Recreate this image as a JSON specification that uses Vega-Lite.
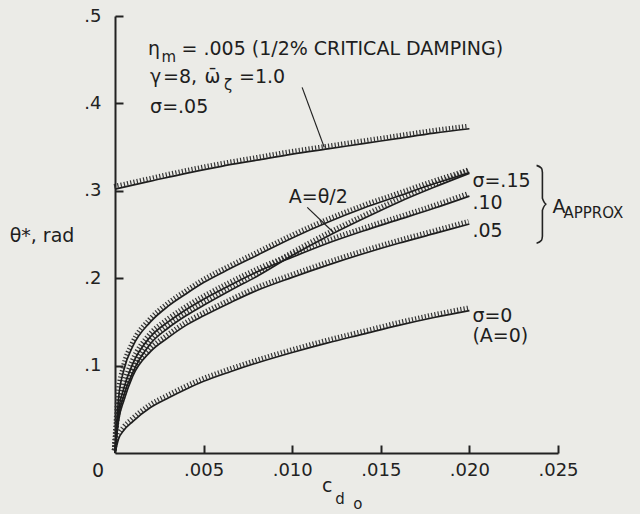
{
  "$schema": "https://vega.github.io/schema/vega-lite/v6.json",
  "width": 443,
  "height": 437,
  "autosize": {"type": "none"},
  "padding": {"left": 115, "top": 16, "right": 82, "bottom": 61},
  "background": "#ebebe7",
  "config": {
    "view": {"stroke": null},
    "font": "DejaVu Sans",
    "axis": {
      "domainColor": "#222", "domainWidth": 2, "tickColor": "#222", "tickWidth": 2,
      "tickSize": -8, "grid": false, "labelFont": "DejaVu Sans", "labelFontSize": 18,
      "labelColor": "#222", "title": null
    }
  },
  "datasets": {
    "curves": [
      {"s":"top","x":0,"y":0.302},{"s":"top","x":0.002,"y":0.311},{"s":"top","x":0.004,"y":0.320},{"s":"top","x":0.006,"y":0.328},{"s":"top","x":0.008,"y":0.335},{"s":"top","x":0.010,"y":0.342},{"s":"top","x":0.012,"y":0.348},{"s":"top","x":0.014,"y":0.354},{"s":"top","x":0.016,"y":0.360},{"s":"top","x":0.018,"y":0.366},{"s":"top","x":0.020,"y":0.371},
      {"s":"s15","x":0,"y":0},{"s":"s15","x":0.0002,"y":0.062},{"s":"s15","x":0.0005,"y":0.095},{"s":"s15","x":0.001,"y":0.122},{"s":"s15","x":0.002,"y":0.150},{"s":"s15","x":0.003,"y":0.168},{"s":"s15","x":0.004,"y":0.182},{"s":"s15","x":0.005,"y":0.195},{"s":"s15","x":0.0065,"y":0.211},{"s":"s15","x":0.008,"y":0.226},{"s":"s15","x":0.010,"y":0.246},{"s":"s15","x":0.012,"y":0.264},{"s":"s15","x":0.014,"y":0.280},{"s":"s15","x":0.016,"y":0.294},{"s":"s15","x":0.018,"y":0.308},{"s":"s15","x":0.020,"y":0.321},
      {"s":"s10","x":0,"y":0},{"s":"s10","x":0.0002,"y":0.047},{"s":"s10","x":0.0005,"y":0.074},{"s":"s10","x":0.001,"y":0.102},{"s":"s10","x":0.002,"y":0.133},{"s":"s10","x":0.003,"y":0.150},{"s":"s10","x":0.004,"y":0.164},{"s":"s10","x":0.005,"y":0.176},{"s":"s10","x":0.0065,"y":0.192},{"s":"s10","x":0.008,"y":0.207},{"s":"s10","x":0.010,"y":0.224},{"s":"s10","x":0.012,"y":0.240},{"s":"s10","x":0.014,"y":0.254},{"s":"s10","x":0.016,"y":0.267},{"s":"s10","x":0.018,"y":0.280},{"s":"s10","x":0.020,"y":0.294},
      {"s":"A","x":0,"y":0},{"s":"A","x":0.0002,"y":0.041},{"s":"A","x":0.0005,"y":0.066},{"s":"A","x":0.001,"y":0.092},{"s":"A","x":0.002,"y":0.125},{"s":"A","x":0.003,"y":0.143},{"s":"A","x":0.004,"y":0.157},{"s":"A","x":0.005,"y":0.169},{"s":"A","x":0.0065,"y":0.186},{"s":"A","x":0.008,"y":0.202},{"s":"A","x":0.010,"y":0.226},{"s":"A","x":0.012,"y":0.248},{"s":"A","x":0.014,"y":0.268},{"s":"A","x":0.016,"y":0.287},{"s":"A","x":0.018,"y":0.304},{"s":"A","x":0.020,"y":0.320},
      {"s":"s05","x":0,"y":0},{"s":"s05","x":0.0002,"y":0.037},{"s":"s05","x":0.0005,"y":0.060},{"s":"s05","x":0.001,"y":0.088},{"s":"s05","x":0.002,"y":0.116},{"s":"s05","x":0.003,"y":0.132},{"s":"s05","x":0.004,"y":0.146},{"s":"s05","x":0.005,"y":0.157},{"s":"s05","x":0.0065,"y":0.172},{"s":"s05","x":0.008,"y":0.186},{"s":"s05","x":0.010,"y":0.201},{"s":"s05","x":0.012,"y":0.215},{"s":"s05","x":0.014,"y":0.228},{"s":"s05","x":0.016,"y":0.240},{"s":"s05","x":0.018,"y":0.251},{"s":"s05","x":0.020,"y":0.262},
      {"s":"s0","x":0,"y":0},{"s":"s0","x":0.0002,"y":0.016},{"s":"s0","x":0.0005,"y":0.026},{"s":"s0","x":0.001,"y":0.036},{"s":"s0","x":0.002,"y":0.052},{"s":"s0","x":0.003,"y":0.063},{"s":"s0","x":0.004,"y":0.073},{"s":"s0","x":0.005,"y":0.082},{"s":"s0","x":0.0065,"y":0.093},{"s":"s0","x":0.008,"y":0.103},{"s":"s0","x":0.010,"y":0.115},{"s":"s0","x":0.012,"y":0.126},{"s":"s0","x":0.014,"y":0.136},{"s":"s0","x":0.016,"y":0.146},{"s":"s0","x":0.018,"y":0.155},{"s":"s0","x":0.020,"y":0.163}
    ],
    "mainLeft": [
      {"x":0.00186,"y":0.4549,"t":"η"},
      {"x":0.00375,"y":0.4549,"t":"= .005 (1/2% CRITICAL DAMPING)"},
      {"x":0.00198,"y":0.4229,"t":"γ"},
      {"x":0.00271,"y":0.4229,"t":"=8,"},
      {"x":0.00505,"y":0.4229,"t":"ω̄"},
      {"x":0.00700,"y":0.4229,"t":"=1.0"},
      {"x":0.00198,"y":0.3886,"t":"σ=.05"},
      {"x":0.02017,"y":0.304,"t":"σ=.15"},
      {"x":0.02017,"y":0.2789,"t":".10"},
      {"x":0.02017,"y":0.2469,"t":".05"},
      {"x":0.02017,"y":0.1497,"t":"σ=0"},
      {"x":0.02017,"y":0.1269,"t":"(A=0)"},
      {"x":0.02469,"y":0.2743,"t":"A"}
    ],
    "sub": [
      {"x":0.00262,"y":0.4469,"t":"m"},
      {"x":0.00615,"y":0.4149,"t":"ζ"},
      {"x":0.02531,"y":0.2686,"t":"APPROX"},
      {"x":0.01243,"y":-0.0583,"t":"d"},
      {"x":0.01345,"y":-0.064,"t":"o"}
    ],
    "center": [
      {"x":0.01147,"y":0.2857,"t":"A=θ/2"},
      {"x":-0.00096,"y":-0.0274,"t":"0"},
      {"x":0.01198,"y":-0.0446,"t":"c"},
      {"x":-0.00412,"y":0.2411,"t":"θ*, rad"}
    ],
    "pointers": [
      {"x":0.01056,"y":0.4183,"x2":0.01181,"y2":0.3497},
      {"x":0.01085,"y":0.2811,"x2":0.01232,"y2":0.2526}
    ],
    "brace": [
      {"i":1,"x":0.02379,"y":0.3291},{"i":2,"x":0.02407,"y":0.3257},{"i":3,"x":0.02412,"y":0.3211},{"i":4,"x":0.02412,"y":0.2914},{"i":5,"x":0.02435,"y":0.2846},{"i":6,"x":0.02412,"y":0.2777},{"i":7,"x":0.02412,"y":0.2480},{"i":8,"x":0.02407,"y":0.2434},{"i":9,"x":0.02379,"y":0.2400}
    ]
  },
  "encoding": {
    "x": {"field": "x", "type": "quantitative", "scale": {"domain": [0, 0.025], "nice": false, "zero": false},
      "axis": {"values": [0.005, 0.01, 0.015, 0.02, 0.025], "labelExpr": "substring(format(datum.value, '.3f'), 1)", "labelPadding": 16, "labelFlush": false}},
    "y": {"field": "y", "type": "quantitative", "scale": {"domain": [0, 0.5], "nice": false, "zero": false},
      "axis": {"values": [0.1, 0.2, 0.3, 0.4, 0.5], "labelExpr": "substring(format(datum.value, '.1f'), 1)", "labelPadding": 22, "labelFlush": false}}
  },
  "layer": [
    {"data": {"name": "curves"}, "mark": {"type": "line", "color": "#333", "strokeWidth": 4.5, "strokeDash": [1.2, 2.1], "yOffset": -2.8, "xOffset": -0.9, "interpolate": "monotone", "clip": false},
      "encoding": {"detail": {"field": "s"}, "order": {"field": "x", "type": "quantitative"}}},
    {"data": {"name": "curves"}, "mark": {"type": "line", "color": "#1e1e1e", "strokeWidth": 1.7, "interpolate": "monotone"},
      "encoding": {"detail": {"field": "s"}, "order": {"field": "x", "type": "quantitative"}}},
    {"data": {"name": "pointers"}, "mark": {"type": "rule", "color": "#222", "strokeWidth": 1.2},
      "encoding": {"x2": {"field": "x2"}, "y2": {"field": "y2"}}},
    {"data": {"name": "brace"}, "mark": {"type": "line", "color": "#222", "strokeWidth": 1.6, "interpolate": "monotone"},
      "encoding": {"order": {"field": "i", "type": "quantitative"}}},
    {"data": {"name": "mainLeft"}, "mark": {"type": "text", "align": "left", "baseline": "alphabetic", "fontSize": 19, "color": "#1e1e1e"},
      "encoding": {"text": {"field": "t"}}},
    {"data": {"name": "sub"}, "mark": {"type": "text", "align": "left", "baseline": "alphabetic", "fontSize": 15, "color": "#1e1e1e"},
      "encoding": {"text": {"field": "t"}}},
    {"data": {"name": "center"}, "mark": {"type": "text", "align": "center", "baseline": "alphabetic", "fontSize": 19, "color": "#1e1e1e"},
      "encoding": {"text": {"field": "t"}}}
  ]
}
